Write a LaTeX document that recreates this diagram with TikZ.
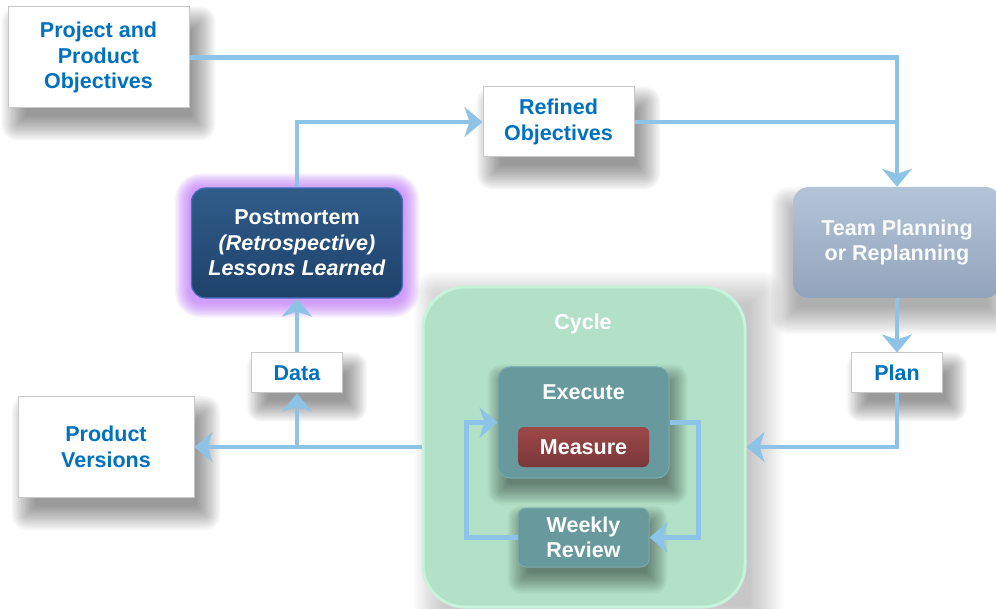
\documentclass[tikz,border=0pt]{standalone}
\usepackage{fontspec}
\setmainfont{Liberation Sans}
\usetikzlibrary{arrows.meta,calc}

\pgfdeclarelayer{shade}
\pgfdeclarelayer{cyc}
\pgfdeclarelayer{inshade}
\pgfsetlayers{shade,cyc,inshade,main}

\definecolor{linec}{RGB}{141,195,230}
\definecolor{txtblue}{RGB}{0,112,192}
\definecolor{boxgray}{RGB}{200,200,200}
\definecolor{pmtop}{RGB}{48,92,138}
\definecolor{pmbot}{RGB}{30,66,106}
\definecolor{pmrim}{RGB}{70,110,190}
\definecolor{glowc}{RGB}{185,110,245}
\definecolor{tptop}{RGB}{180,196,216}
\definecolor{tpbot}{RGB}{146,164,188}
\definecolor{cycfill}{RGB}{178,225,199}
\definecolor{cycrim}{RGB}{198,243,218}
\definecolor{exfill}{RGB}{104,153,157}
\definecolor{exrim}{RGB}{120,170,175}
\definecolor{mstop}{RGB}{158,72,72}
\definecolor{msbot}{RGB}{122,55,58}

% soft drop shadow: node, dx, dy, spread, opacity per layer, layer
% layers grow from a shrunk copy to an enlarged copy, giving a blurred edge
\newcommand\boxshade[6]{%
  \begin{pgfonlayer}{#6}
  \foreach \k in {0,...,15}{
    \pgfmathsetmacro\sp{-#4/2+\k*#4/10}
    \pgfmathsetmacro\rc{max(\sp,1)}
    \fill[black,opacity=#5,rounded corners=\rc pt]
      ($(#1.north west)+(#2-\sp,#3-\sp)$) rectangle ($(#1.south east)+(#2+\sp,#3+\sp)$);
  }
  \end{pgfonlayer}}

% coloured halo: node, colour, spread, opacity per layer
\newcommand\boxglow[4]{%
  \begin{pgfonlayer}{shade}
  \foreach \k in {1,...,12}{
    \pgfmathsetmacro\sp{\k*#3/12}
    \fill[#2,opacity=#4,rounded corners=\sp pt+10pt]
      ($(#1.north west)+(-\sp,-\sp+2)$) rectangle ($(#1.south east)+(\sp,\sp+3)$);
  }
  \end{pgfonlayer}}

\tikzset{
  lbl/.style={font=\bfseries\fontsize{21.5}{25.5}\selectfont, align=center, inner sep=0pt},
  whitebox/.style={lbl, draw=boxgray, line width=1pt, fill=white, text=txtblue},
  pmbox/.style={lbl, text=white, draw=pmrim, line width=1.2pt, rounded corners=14pt,
    top color=pmtop, bottom color=pmbot},
  tpbox/.style={lbl, text=white!94!tptop, rounded corners=16pt,
    top color=tptop, bottom color=tpbot},
  cyclebox/.style={draw=cycrim, line width=3pt, fill=cycfill, rounded corners=42pt},
  exbox/.style={lbl, text=white, draw=exrim, line width=1pt, fill=exfill, rounded corners=12pt},
  msbox/.style={lbl, text=white, rounded corners=6pt, top color=mstop, bottom color=msbot},
  conn/.style={draw=linec, line width=4.5pt},
  arr/.style={conn, -{Stealth[length=18pt,width=30pt,inset=5pt]}},
}

\begin{document}
\begin{tikzpicture}[x=1pt,y=-1pt]
\useasboundingbox (0,0) rectangle (996,609);

% outer boxes
\node[whitebox, minimum width=181pt, minimum height=101pt] (proj) at (98.5,57.5)
  {Project and\\Product\\Objectives};
\node[whitebox, minimum width=151pt, minimum height=70pt] (refined) at (558.5,122)
  {Refined\\Objectives};
\node[pmbox, minimum width=211pt, minimum height=110pt] (post) at (297,243)
  {Postmortem\\\textit{(Retrospective)}\\\textit{Lessons Learned}};
\node[tpbox, minimum width=208pt, minimum height=111pt] (team) at (897,242.5)
  {Team Planning\\or Replanning};
\node[whitebox, minimum width=91pt, minimum height=40pt] (plan) at (897,373) {Plan};
\node[whitebox, minimum width=91pt, minimum height=40pt] (data) at (297,373) {Data};
\node[whitebox, minimum width=176pt, minimum height=101pt] (prodv) at (106,447)
  {Product\\Versions};

% cycle container and its content
\begin{pgfonlayer}{cyc}
\node[cyclebox, minimum width=322pt, minimum height=320pt] (cycle) at (584,447) {};
\end{pgfonlayer}
\node[lbl, text=white] (cyclbl) at (583,324) {Cycle};
\node[exbox, minimum width=171pt, minimum height=111pt] (exec) at (583.5,422.5) {};
\node[lbl, text=white] (execlbl) at (583.5,392) {Execute};
\node[msbox, minimum width=131pt, minimum height=40pt] (meas) at (583.5,447) {Measure};
\node[exbox, minimum width=131pt, minimum height=59pt, rounded corners=8pt] (weekly) at (583.5,537.5)
  {Weekly\\Review};

% shadows and halo
\boxshade{proj}{10}{16}{16}{0.03}{shade}
\boxshade{refined}{10}{16}{16}{0.03}{shade}
\boxshade{data}{10}{14}{14}{0.03}{shade}
\boxshade{plan}{10}{14}{14}{0.03}{shade}
\boxshade{prodv}{10}{16}{16}{0.03}{shade}
\boxshade{team}{-4}{18}{18}{0.022}{shade}
\boxshade{cycle}{14}{8}{22}{0.014}{shade}
\boxglow{post}{glowc}{16}{0.09}
\boxshade{exec}{4}{12}{14}{0.03}{inshade}
\boxshade{weekly}{4}{12}{14}{0.03}{inshade}

% connectors
\draw[arr] (proj.east) -| (team.north);
\draw[conn] (refined.east) -- (refined.east -| team.north);
\draw[arr] (post.north) |- (refined.west);
\draw[arr] (team.south) -- (plan.north);
\draw[arr] (plan.south) |- (cycle.east);
\draw[arr] (cycle.west) -- (prodv.east);
\coordinate (split) at (data.south |- cycle.west);
\draw[arr] (split) -- (data.south);
\draw[arr] (data.north) -- (post.south);
\draw[arr] (exec.east) -- ++(29,0) |- (weekly.east);
\draw[arr] (weekly.west) -- ++(-51,0) |- (exec.west);
\end{tikzpicture}
\end{document}
